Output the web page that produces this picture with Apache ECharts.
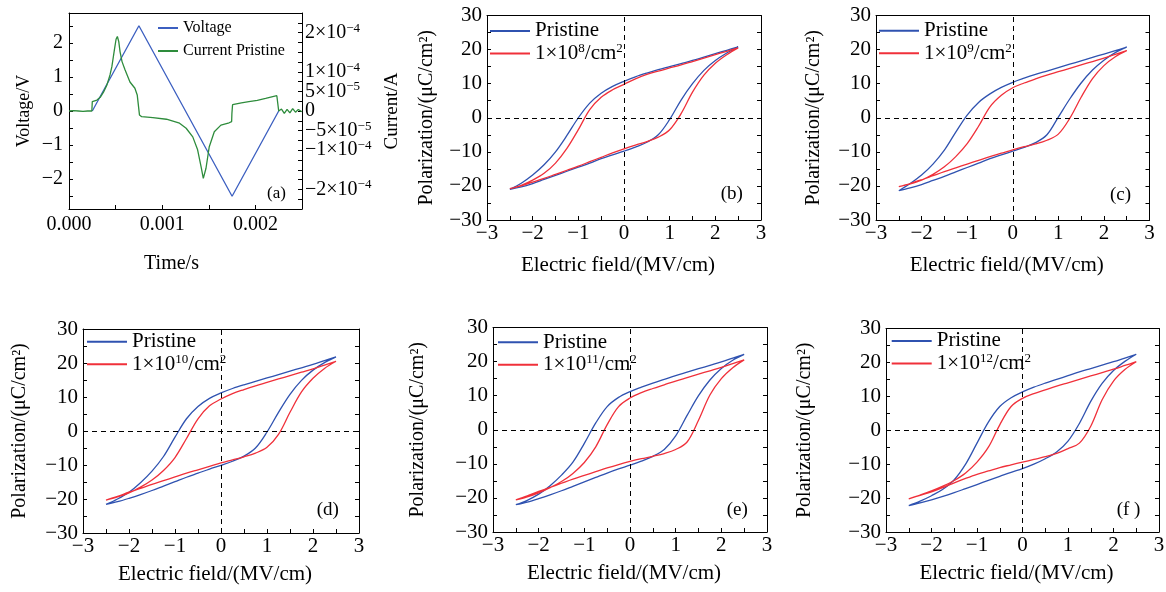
<!DOCTYPE html>
<html><head><meta charset="utf-8">
<script src="https://cdn.jsdelivr.net/npm/echarts@6/dist/echarts.min.js"></script>
<style>html,body{margin:0;padding:0;background:#fff}#c{width:1166px;height:592px}</style>
</head><body><div id="c"></div>
<script>
const FONT = "'Liberation Serif','DejaVu Serif','Times New Roman',serif";

// ---- Panel (a): voltage and current vs time ----
const voltageTime  = [0.00025, 0.00075, 0.00175, 0.00225];
const voltageValue = [0, 2.5, -2.5, 0];
const currentTime  = [0, 0.00005, 0.0001, 0.00015, 0.0002, 0.000245, 0.00025, 0.0003, 0.000335, 0.00037, 0.000406, 0.00044, 0.00046, 0.000487, 0.000505, 0.000519, 0.000534, 0.000548, 0.000569, 0.000601, 0.000654, 0.000707, 0.000732, 0.000747, 0.000752, 0.000756, 0.00078, 0.0009, 0.001045, 0.001186, 0.001257, 0.001328, 0.00138, 0.001417, 0.001441, 0.00147, 0.001505, 0.001559, 0.00163, 0.001718, 0.001745, 0.001748, 0.00175, 0.001755, 0.00176, 0.00185, 0.00193, 0.00202, 0.00211, 0.00223, 0.002245, 0.00225, 0.00228, 0.00231, 0.00234, 0.00237, 0.0024, 0.00243, 0.00246, 0.0025];
const currentValue = [0, 1e-6, 0, -1e-6, 0, 0, 2.4e-5, 2.8e-5, 3.5e-5, 4.8e-5, 6.6e-5, 9.2e-5, 1.13e-4, 1.56e-4, 1.83e-4, 1.90e-4, 1.77e-4, 1.51e-4, 1.26e-4, 1.05e-4, 7.4e-5, 5.8e-5, 4.1e-5, 3.6e-5, 3.5e-5, -1.0e-5, -1.45e-5, -1.7e-5, -2.1e-5, -3.1e-5, -4.4e-5, -6.6e-5, -9.9e-5, -1.42e-4, -1.72e-4, -1.46e-4, -9.1e-5, -5.3e-5, -3.6e-5, -3.0e-5, -2.7e-5, -6e-6, -5e-6, 1.6e-5, 1.9e-5, 2.1e-5, 2.4e-5, 2.7e-5, 3.2e-5, 3.9e-5, 3.8e-5, 0, 5e-6, -6e-6, 4e-6, -5e-6, 6e-6, -3e-6, 4e-6, -2e-6];

// ---- Hysteresis loops (b)-(f) ----
const fieldUp   = [-2.5, -2.25, -2, -1.75, -1.5, -1.25, -1, -0.75, -0.5, -0.25, 0, 0.25, 0.5, 0.75, 1, 1.25, 1.5, 1.75, 2, 2.25, 2.5];
const fieldDown = [2.5, 2.25, 2, 1.75, 1.5, 1.25, 1, 0.75, 0.5, 0.25, 0, -0.25, -0.5, -0.75, -1, -1.25, -1.5, -1.75, -2, -2.25, -2.5];

const pristineB_low = [-21.0, -20.3, -19.3, -18.1, -16.9, -15.7, -14.5, -13.3, -12.0, -10.9, -9.8, -8.6, -7.2, -5.0, -0.5, 5.2, 10.0, 13.9, 16.8, 19.0, 20.8];
const pristineB_up  = [20.8, 19.8, 18.8, 17.8, 16.8, 15.9, 15.0, 14.1, 13.1, 12.0, 10.7, 9.2, 7.2, 4.3, 0.0, -5.2, -10.0, -13.8, -16.8, -19.2, -21.0];
const doseB_low     = [-20.8, -20.0, -18.9, -17.8, -16.6, -15.4, -14.2, -12.9, -11.6, -10.3, -9.1, -8.0, -7.0, -5.7, -3.5, 1.2, 7.5, 12.5, 16.0, 18.5, 20.5];
const doseB_up      = [20.5, 19.5, 18.5, 17.5, 16.5, 15.5, 14.6, 13.7, 12.7, 11.4, 9.8, 8.2, 6.0, 2.4, -3.5, -9.0, -13.3, -16.3, -18.3, -19.8, -20.8];

const pristineC_low = [-21.4, -20.6, -19.6, -18.4, -17.2, -15.9, -14.6, -13.3, -12.0, -10.9, -9.8, -8.7, -7.3, -5.0, 0.2, 5.5, 10.2, 14.0, 16.9, 19.1, 20.7];
const pristineC_up  = [20.7, 19.7, 18.7, 17.7, 16.7, 15.7, 14.7, 13.7, 12.7, 11.6, 10.4, 8.9, 7.0, 4.5, 0.8, -4.2, -9.5, -13.6, -16.8, -19.3, -21.4];
const doseC_low     = [-20.2, -19.3, -18.2, -17.0, -15.8, -14.7, -13.6, -12.5, -11.4, -10.4, -9.4, -8.5, -7.7, -6.6, -4.8, -0.2, 6.0, 11.5, 15.3, 17.9, 19.7];
const doseC_up      = [19.7, 18.6, 17.5, 16.5, 15.5, 14.5, 13.5, 12.5, 11.4, 10.2, 8.8, 6.6, 3.2, -2.5, -7.6, -11.4, -14.4, -16.6, -18.3, -19.4, -20.2];

const pristineD_low = [-21.6, -20.8, -19.8, -18.7, -17.5, -16.2, -14.9, -13.6, -12.4, -11.2, -10.1, -8.9, -7.4, -5.0, -0.3, 5.5, 10.8, 14.9, 17.9, 20.1, 21.8];
const pristineD_up  = [21.8, 20.7, 19.6, 18.6, 17.6, 16.6, 15.6, 14.6, 13.6, 12.5, 11.2, 9.6, 7.2, 3.6, -1.8, -7.5, -11.8, -15.2, -18.0, -20.0, -21.6];
const doseD_low     = [-20.3, -19.2, -18.0, -16.9, -15.7, -14.6, -13.5, -12.4, -11.4, -10.4, -9.4, -8.5, -7.6, -6.5, -4.8, -1.0, 5.5, 11.5, 15.5, 18.4, 20.5];
const doseD_up      = [20.5, 19.4, 18.3, 17.3, 16.3, 15.3, 14.3, 13.3, 12.2, 11.0, 9.4, 7.4, 3.6, -2.2, -7.8, -11.6, -14.4, -16.5, -18.2, -19.4, -20.3];

const pristineE_low = [-22.0, -21.2, -20.2, -19.1, -17.9, -16.6, -15.3, -14.0, -12.7, -11.5, -10.4, -9.2, -7.8, -5.8, -1.8, 4.2, 10.0, 14.6, 18.0, 20.4, 22.1];
const pristineE_up  = [22.1, 21.0, 19.9, 18.9, 17.9, 16.9, 15.9, 14.8, 13.7, 12.5, 11.2, 9.5, 6.8, 2.0, -4.0, -9.5, -13.3, -16.4, -18.9, -20.7, -22.0];
const doseE_low     = [-20.6, -19.4, -18.1, -16.9, -15.7, -14.5, -13.4, -12.3, -11.2, -10.2, -9.3, -8.5, -7.8, -7.0, -5.8, -3.6, 2.8, 10.2, 15.0, 18.2, 20.5];
const doseE_up      = [20.5, 19.4, 18.3, 17.3, 16.3, 15.3, 14.3, 13.2, 12.1, 10.9, 9.3, 6.8, 1.5, -5.0, -9.6, -12.8, -15.2, -17.0, -18.5, -19.7, -20.6];

const pristineF_low = [-22.2, -21.4, -20.5, -19.5, -18.4, -17.2, -16.0, -14.8, -13.6, -12.4, -11.3, -10.0, -8.4, -6.4, -3.2, 2.0, 8.5, 13.8, 17.6, 20.3, 22.4];
const pristineF_up  = [22.4, 21.3, 20.2, 19.2, 18.2, 17.2, 16.1, 15.0, 13.9, 12.7, 11.3, 9.6, 7.0, 2.4, -3.8, -10.0, -14.6, -17.4, -19.3, -20.9, -22.2];
const doseF_low     = [-20.2, -19.2, -18.2, -16.9, -15.5, -14.2, -13.0, -12.0, -11.0, -10.2, -9.4, -8.6, -7.8, -6.8, -5.4, -3.8, 1.2, 9.0, 14.5, 17.9, 20.2];
const doseF_up      = [20.2, 19.1, 18.0, 17.0, 16.0, 15.0, 14.0, 13.0, 11.9, 10.8, 9.4, 7.0, 1.6, -5.0, -9.4, -12.6, -14.8, -16.5, -17.9, -19.1, -20.2];

const doseNames     = ['1×10⁸/cm²', '1×10⁹/cm²', '1×10¹⁰/cm²', '1×10¹¹/cm²', '1×10¹²/cm²'];
const doseExponents = ['8', '9', '10', '11', '12'];
const panelLabels   = ['(a)', '(b)', '(c)', '(d)', '(e)', '(f )'];
// current axis tick labels: [mantissa, exponent] keyed by multiples of 2.5e-5
const currentTickLabels = {'8': ['2×10', '−4'], '4': ['1×10', '−4'], '2': ['5×10', '−5'], '0': ['0', ''],
  '-2': ['−5×10', '−5'], '-4': ['−1×10', '−4'], '-8': ['−2×10', '−4']};

const loops = [
  [pristineB_low, pristineB_up, doseB_low, doseB_up],
  [pristineC_low, pristineC_up, doseC_low, doseC_up],
  [pristineD_low, pristineD_up, doseD_low, doseD_up],
  [pristineE_low, pristineE_up, doseE_low, doseE_up],
  [pristineF_low, pristineF_up, doseF_low, doseF_up]
];

// ---- layout (px) ----
const grids = [
  {left: 69,  top: 13,    width: 233,   height: 196},
  {left: 487, top: 15.5,  width: 274,   height: 204.5},
  {left: 876, top: 15.5,  width: 273.5, height: 204.5},
  {left: 83,  top: 329,   width: 276,   height: 204},
  {left: 493, top: 327.5, width: 274,   height: 204.5},
  {left: 886, top: 328.5, width: 273,   height: 203.5}
];
const yNameGaps = [null, 50, 52, 53, 65, 71];
const xNameGaps = [null, 35, 35, 31, 31, 31];
const legendPos = [null, [490, 19.7], [879, 19.5], [87, 330.5], [498, 331], [891.7, 329.7]];
const labelPos  = [[267, 193.5], [720.7, 194], [1110, 195], [316.7, 510], [726.7, 510.5], [1116.7, 510]];

const BLUE = '#2f52b0', RED = '#f0303a', GREEN = '#2e8c3c', VBLUE = '#3c5fc0';
const minus = v => String(v).replace('-', '−');
const lineAxis = {onZero: false, lineStyle: {color: '#000', width: 1}};
const tickStyle = {color: '#000', width: 1};
const supRich = (size, supSize, lh) => ({
  n: {fontSize: size, fontFamily: FONT, color: '#000', lineHeight: lh},
  s: {fontSize: supSize, fontFamily: FONT, color: '#000', lineHeight: supSize, verticalAlign: 'top'}
});

const xAxes = [], yAxes = [];
// (a) axes
xAxes.push({type: 'value', gridIndex: 0, min: 0, max: 0.0025, interval: 0.0005, position: 'bottom',
  axisLine: lineAxis, axisTick: {inside: true, length: 4, lineStyle: tickStyle}, splitLine: {show: false},
  axisLabel: {margin: 6, fontSize: 20, fontFamily: FONT, color: '#000',
    formatter: v => { const k = Math.round(v / 0.0005); return k % 2 === 0 ? (k * 0.0005).toFixed(3) : ''; }},
  name: 'Time/s', nameLocation: 'middle', nameGap: 45,
  nameTextStyle: {fontSize: 20, fontFamily: FONT, color: '#000', padding: [0, 28, 0, 0]}});
xAxes.push({type: 'value', gridIndex: 0, min: 0, max: 0.0025, position: 'top', axisLine: lineAxis,
  axisTick: {show: false}, axisLabel: {show: false}, splitLine: {show: false}});
yAxes.push({type: 'value', gridIndex: 0, min: -2.875, max: 2.875, splitNumber: 11, position: 'left',
  axisLine: lineAxis, axisTick: {inside: true, length: 4, lineStyle: tickStyle}, splitLine: {show: false},
  axisLabel: {margin: 6, fontSize: 20, fontFamily: FONT, color: '#000', showMinLabel: false, showMaxLabel: false,
    formatter: v => Math.abs(v - Math.round(v)) < 1e-6 ? minus(Math.round(v)) : ''},
  name: 'Voltage/V', nameLocation: 'middle', nameGap: 36,
  nameTextStyle: {fontSize: 18, fontFamily: FONT, color: '#000'}});
yAxes.push({type: 'value', gridIndex: 0, min: -2.5e-4, max: 2.5e-4, interval: 2.5e-5, position: 'right',
  axisLine: lineAxis, axisTick: {inside: true, length: 4, lineStyle: tickStyle}, splitLine: {show: false},
  axisLabel: {margin: 3, fontSize: 20, fontFamily: FONT, color: '#000', rich: supRich(20, 13, 22),
    formatter: v => {
      const lab = currentTickLabels[String(Math.round(v / 2.5e-5))];
      if (!lab) return '';
      return lab[1] ? '{n|' + lab[0] + '}{s|' + lab[1] + '}' : '{n|' + lab[0] + '}';
    }},
  name: 'Current/A', nameLocation: 'middle', nameGap: 81,
  nameTextStyle: {fontSize: 19, fontFamily: FONT, color: '#000'}});

for (let i = 1; i <= 5; i++) {
  xAxes.push({type: 'value', gridIndex: i, min: -3, max: 3, interval: 1, position: 'bottom',
    axisLine: lineAxis, axisTick: {inside: true, length: 4, lineStyle: tickStyle},
    minorTick: {show: true, splitNumber: 2, length: 4, lineStyle: tickStyle}, splitLine: {show: false},
    axisLabel: {margin: 3, fontSize: 21, fontFamily: FONT, color: '#000', formatter: minus},
    name: 'Electric field/(MV/cm)', nameLocation: 'middle', nameGap: xNameGaps[i],
    nameTextStyle: {fontSize: 21, fontFamily: FONT, color: '#000', padding: [0, 12, 0, 0]}});
  xAxes.push({type: 'value', gridIndex: i, min: -3, max: 3, interval: 1, position: 'top',
    axisLine: lineAxis, axisTick: {show: false}, axisLabel: {show: false}, splitLine: {show: false}});
  yAxes.push({type: 'value', gridIndex: i, min: -30, max: 30, interval: 10, position: 'left',
    axisLine: lineAxis, axisTick: {inside: true, length: 4, lineStyle: tickStyle},
    minorTick: {show: true, splitNumber: 2, length: 4, lineStyle: tickStyle}, splitLine: {show: false},
    axisLabel: {margin: 5, fontSize: 21, fontFamily: FONT, color: '#000', formatter: minus},
    name: 'Polarization/(μC/cm²)', nameLocation: 'middle', nameGap: yNameGaps[i],
    nameTextStyle: {fontSize: 20, fontFamily: FONT, color: '#000'}});
  yAxes.push({type: 'value', gridIndex: i, min: -30, max: 30, interval: 10, position: 'right',
    axisLine: lineAxis, axisTick: {inside: true, length: 4, lineStyle: tickStyle},
    minorTick: {show: true, splitNumber: 2, length: 4, lineStyle: tickStyle},
    axisLabel: {show: false}, splitLine: {show: false}});
}

const series = [];
series.push({name: 'Voltage', type: 'line', xAxisIndex: 0, yAxisIndex: 0, showSymbol: false, symbol: 'none',
  lineStyle: {color: VBLUE, width: 1.3}, itemStyle: {color: VBLUE},
  data: voltageTime.map((t, k) => [t, voltageValue[k]])});
series.push({name: 'Current Pristine', type: 'line', xAxisIndex: 0, yAxisIndex: 1, showSymbol: false, symbol: 'none',
  lineStyle: {color: GREEN, width: 1.3}, itemStyle: {color: GREEN},
  data: currentTime.map((t, k) => [t, currentValue[k]])});

function loopData(low, up) {
  return fieldUp.map((e, k) => [e, low[k]]).concat(fieldDown.slice(1).map((e, k) => [e, up[k + 1]]));
}
for (let i = 1; i <= 5; i++) {
  const L = loops[i - 1];
  series.push({name: 'Pristine', type: 'line', xAxisIndex: 2 * i, yAxisIndex: 2 * i, showSymbol: false, symbol: 'none',
    smooth: 0.35, lineStyle: {color: BLUE, width: 1.3}, itemStyle: {color: BLUE}, z: 3,
    data: loopData(L[0], L[1]),
    markLine: {silent: true, symbol: ['none', 'none'], label: {show: false}, animation: false,
      lineStyle: {type: [5, 4], color: '#000', width: 1}, data: [{xAxis: 0}, {yAxis: 0}]}});
  series.push({name: doseNames[i - 1], type: 'line', xAxisIndex: 2 * i, yAxisIndex: 2 * i, showSymbol: false, symbol: 'none',
    smooth: 0.35, lineStyle: {color: RED, width: 1.3}, itemStyle: {color: RED}, z: 3,
    data: loopData(L[2], L[3])});
}

const legends = [{left: 158, top: 16.5, orient: 'vertical', padding: 0, itemGap: 0, itemWidth: 20, itemHeight: 2, icon: 'rect',
  selectedMode: false, textStyle: {fontSize: 16, lineHeight: 23, fontFamily: FONT, color: '#000'},
  data: ['Voltage', 'Current Pristine']}];
for (let i = 1; i <= 5; i++) {
  const exp = doseExponents[i - 1];
  legends.push({left: legendPos[i][0], top: legendPos[i][1], orient: 'vertical', padding: 0, itemGap: 0,
    itemWidth: 40, itemHeight: 2, icon: 'rect', selectedMode: false,
    textStyle: {fontSize: 21, lineHeight: 22.5, fontFamily: FONT, color: '#000', rich: supRich(21, 13, 22.5)},
    formatter: name => name === 'Pristine' ? '{n|Pristine}' : '{n|1×10}{s|' + exp + '}{n|/cm}{s|2}',
    data: ['Pristine', doseNames[i - 1]]});
}

const graphics = panelLabels.map((t, k) => ({type: 'text', x: labelPos[k][0], y: labelPos[k][1], silent: true,
  style: {text: t, font: (k === 0 ? 17 : 19) + 'px ' + FONT, fill: '#000', align: 'left', verticalAlign: 'middle'}}));

const chart = echarts.init(document.getElementById('c'), null, {renderer: 'canvas'});
chart.setOption({
  animation: false,
  backgroundColor: '#fff',
  grid: grids.map(g => Object.assign({show: false, containLabel: false, outerBoundsMode: 'none'}, g)),
  xAxis: xAxes,
  yAxis: yAxes,
  legend: legends,
  graphic: graphics,
  series: series
});
</script></body></html>
